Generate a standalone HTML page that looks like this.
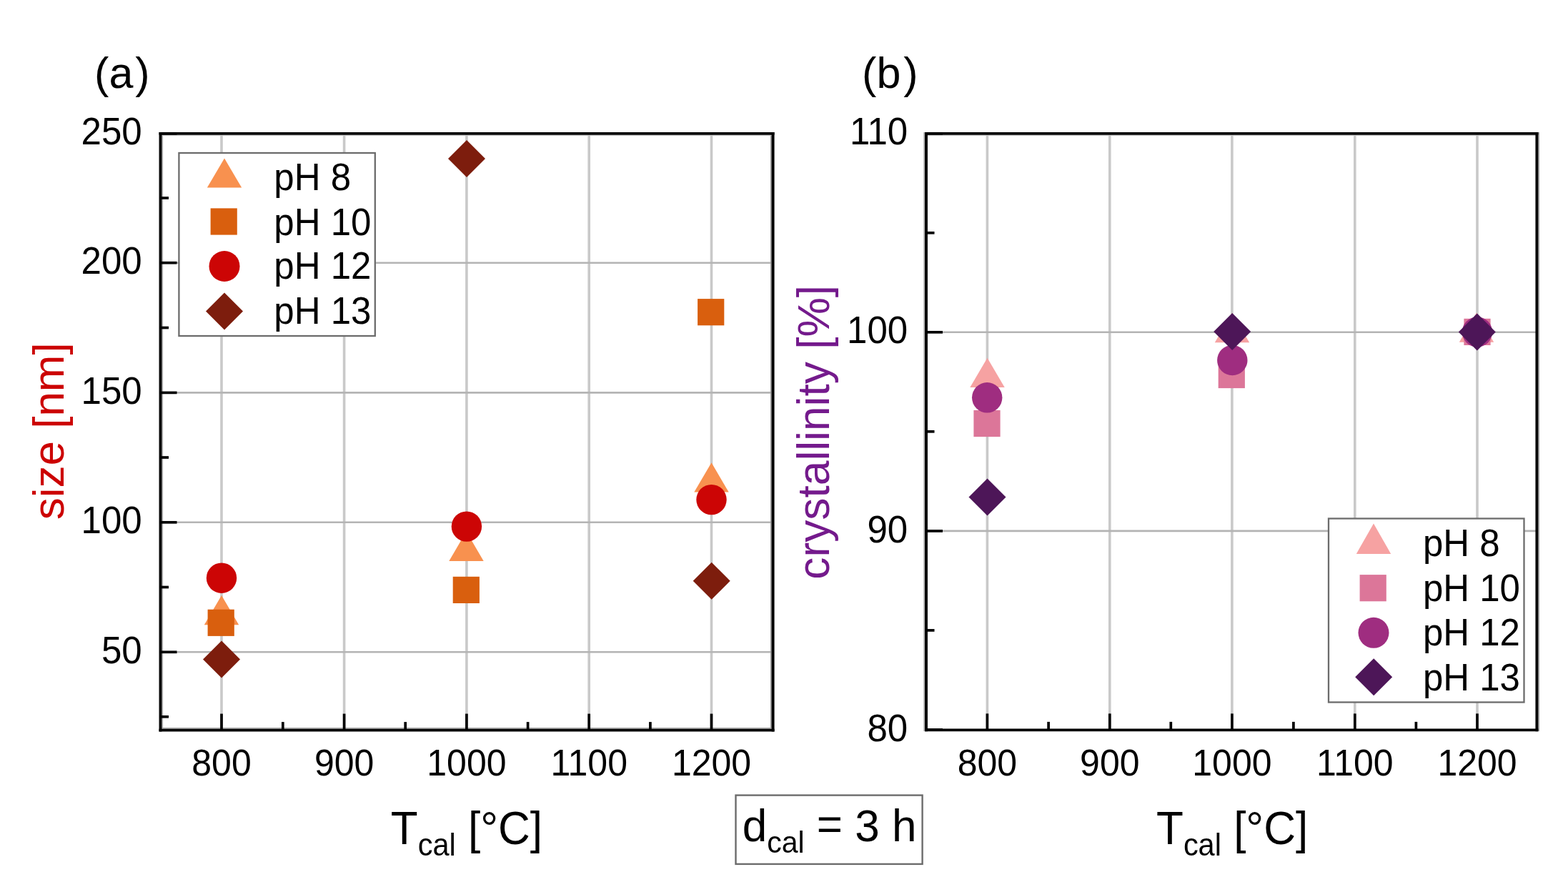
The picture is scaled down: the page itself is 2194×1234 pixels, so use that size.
<!DOCTYPE html>
<html><head><meta charset="utf-8"><title>Figure</title>
<style>html,body{margin:0;padding:0;background:#fff;width:2194px;height:1234px;overflow:hidden} svg{display:block}</style>
</head><body>
<svg width="2194" height="1234" viewBox="0 0 2194 1234" font-family='"Liberation Sans", Arial, Helvetica, sans-serif'>
<rect x="0" y="0" width="2194" height="1234" fill="#fff"/>
<line x1="310.0" y1="186.8" x2="310.0" y2="1021.6" stroke="#c9c9c9" stroke-width="3.6"/>
<line x1="481.6" y1="186.8" x2="481.6" y2="1021.6" stroke="#c9c9c9" stroke-width="3.6"/>
<line x1="652.9" y1="186.8" x2="652.9" y2="1021.6" stroke="#c9c9c9" stroke-width="3.6"/>
<line x1="824.2" y1="186.8" x2="824.2" y2="1021.6" stroke="#c9c9c9" stroke-width="3.6"/>
<line x1="995.5" y1="186.8" x2="995.5" y2="1021.6" stroke="#c9c9c9" stroke-width="3.6"/>
<line x1="224.5" y1="367.7" x2="1081.6" y2="367.7" stroke="#b4b4b4" stroke-width="2.6"/>
<line x1="224.5" y1="549.4" x2="1081.6" y2="549.4" stroke="#b4b4b4" stroke-width="2.6"/>
<line x1="224.5" y1="730.8" x2="1081.6" y2="730.8" stroke="#b4b4b4" stroke-width="2.6"/>
<line x1="224.5" y1="912.3" x2="1081.6" y2="912.3" stroke="#b4b4b4" stroke-width="2.6"/>
<polygon points="310.00,833.00 334.20,874.30 285.80,874.30" fill="#F8914F"/>
<polygon points="652.50,743.60 676.70,785.00 628.30,785.00" fill="#F8914F"/>
<polygon points="995.50,647.20 1019.70,688.60 971.30,688.60" fill="#F8914F"/>
<rect x="290.60" y="852.70" width="37.2" height="37.2" fill="#D95F0E"/>
<rect x="633.70" y="806.80" width="37.2" height="37.2" fill="#D95F0E"/>
<rect x="976.10" y="418.10" width="37.2" height="37.2" fill="#D95F0E"/>
<circle cx="310.0" cy="808.7" r="21.2" fill="#CC0505"/>
<circle cx="652.9" cy="736.6" r="21.2" fill="#CC0505"/>
<circle cx="995.5" cy="699.1" r="21.2" fill="#CC0505"/>
<polygon points="310.00,896.60 336.00,922.60 310.00,948.60 284.00,922.60" fill="#7D1D0D"/>
<polygon points="653.00,196.10 679.00,222.10 653.00,248.10 627.00,222.10" fill="#7D1D0D"/>
<polygon points="995.70,786.80 1021.70,812.80 995.70,838.80 969.70,812.80" fill="#7D1D0D"/>
<line x1="227.2" y1="188" x2="227.2" y2="1019" stroke="#b4b4b4" stroke-width="1.8"/>
<line x1="1078.9" y1="188" x2="1078.9" y2="1019" stroke="#989898" stroke-width="1.8"/>
<line x1="226" y1="1018.9" x2="1080" y2="1018.9" stroke="#a4a4a4" stroke-width="1.8"/>
<line x1="226" y1="189.4" x2="1080" y2="189.4" stroke="#c8c8c8" stroke-width="1.2"/>
<path d="M224.5,184.9V1023.5M1081.6,184.9V1023.5" stroke="#000" stroke-width="3.9" fill="none"/>
<path d="M222.55,186.8H1083.55M222.55,1021.6H1083.55" stroke="#000" stroke-width="3.7" fill="none"/>
<line x1="310.0" y1="1021.6" x2="310.0" y2="998.60" stroke="#000" stroke-width="3.7"/>
<line x1="481.6" y1="1021.6" x2="481.6" y2="998.60" stroke="#000" stroke-width="3.7"/>
<line x1="652.9" y1="1021.6" x2="652.9" y2="998.60" stroke="#000" stroke-width="3.7"/>
<line x1="824.2" y1="1021.6" x2="824.2" y2="998.60" stroke="#000" stroke-width="3.7"/>
<line x1="995.5" y1="1021.6" x2="995.5" y2="998.60" stroke="#000" stroke-width="3.7"/>
<line x1="395.8" y1="1021.6" x2="395.8" y2="1010.10" stroke="#000" stroke-width="3.7"/>
<line x1="567.2" y1="1021.6" x2="567.2" y2="1010.10" stroke="#000" stroke-width="3.7"/>
<line x1="738.6" y1="1021.6" x2="738.6" y2="1010.10" stroke="#000" stroke-width="3.7"/>
<line x1="909.9" y1="1021.6" x2="909.9" y2="1010.10" stroke="#000" stroke-width="3.7"/>
<line x1="224.5" y1="186.8" x2="247.50" y2="186.8" stroke="#000" stroke-width="3.7"/>
<line x1="224.5" y1="367.7" x2="247.50" y2="367.7" stroke="#000" stroke-width="3.7"/>
<line x1="224.5" y1="549.4" x2="247.50" y2="549.4" stroke="#000" stroke-width="3.7"/>
<line x1="224.5" y1="730.8" x2="247.50" y2="730.8" stroke="#000" stroke-width="3.7"/>
<line x1="224.5" y1="912.3" x2="247.50" y2="912.3" stroke="#000" stroke-width="3.7"/>
<line x1="224.5" y1="1002.8" x2="236.00" y2="1002.8" stroke="#000" stroke-width="3.7"/>
<line x1="224.5" y1="821.5" x2="236.00" y2="821.5" stroke="#000" stroke-width="3.7"/>
<line x1="224.5" y1="640.0" x2="236.00" y2="640.0" stroke="#000" stroke-width="3.7"/>
<line x1="224.5" y1="458.5" x2="236.00" y2="458.5" stroke="#000" stroke-width="3.7"/>
<line x1="224.5" y1="277.0" x2="236.00" y2="277.0" stroke="#000" stroke-width="3.7"/>
<text transform="translate(310.0,1084.8) scale(1,1.025)" font-size="50" text-anchor="middle">800</text>
<text transform="translate(481.6,1084.8) scale(1,1.025)" font-size="50" text-anchor="middle">900</text>
<text transform="translate(652.9,1084.8) scale(1,1.025)" font-size="50" text-anchor="middle">1000</text>
<text transform="translate(824.2,1084.8) scale(1,1.025)" font-size="50" text-anchor="middle">1100</text>
<text transform="translate(995.5,1084.8) scale(1,1.025)" font-size="50" text-anchor="middle">1200</text>
<text transform="translate(198.7,202.4) scale(1,1.06)" font-size="51" text-anchor="end">250</text>
<text transform="translate(198.7,383.3) scale(1,1.06)" font-size="51" text-anchor="end">200</text>
<text transform="translate(198.7,565.0) scale(1,1.06)" font-size="51" text-anchor="end">150</text>
<text transform="translate(198.7,746.4) scale(1,1.06)" font-size="51" text-anchor="end">100</text>
<text transform="translate(198.7,927.9) scale(1,1.06)" font-size="51" text-anchor="end">50</text>
<rect x="250.4" y="214" width="274.4" height="256" fill="#fff" stroke="#6c6c6c" stroke-width="2.3"/>
<polygon points="314.00,221.60 338.20,262.60 289.80,262.60" fill="#F8914F"/>
<rect x="294.60" y="291.40" width="37.2" height="37.2" fill="#D95F0E"/>
<circle cx="314.0" cy="372.5" r="21.5" fill="#CC0505"/>
<polygon points="314.00,409.50 340.00,435.50 314.00,461.50 288.00,435.50" fill="#7D1D0D"/>
<text transform="translate(383.3,266.2) scale(1,1.04)" font-size="51">pH 8</text>
<text transform="translate(383.3,328.6) scale(1,1.04)" font-size="51">pH 10</text>
<text transform="translate(383.3,389.9) scale(1,1.04)" font-size="51">pH 12</text>
<text transform="translate(383.3,453.4) scale(1,1.04)" font-size="51">pH 13</text>
<line x1="1381.4" y1="186.8" x2="1381.4" y2="1021.4" stroke="#c9c9c9" stroke-width="3.6"/>
<line x1="1552.8" y1="186.8" x2="1552.8" y2="1021.4" stroke="#c9c9c9" stroke-width="3.6"/>
<line x1="1723.9" y1="186.8" x2="1723.9" y2="1021.4" stroke="#c9c9c9" stroke-width="3.6"/>
<line x1="1895.8" y1="186.8" x2="1895.8" y2="1021.4" stroke="#c9c9c9" stroke-width="3.6"/>
<line x1="2067.0" y1="186.8" x2="2067.0" y2="1021.4" stroke="#c9c9c9" stroke-width="3.6"/>
<line x1="1296.0" y1="464.8" x2="2150.4" y2="464.8" stroke="#b4b4b4" stroke-width="2.6"/>
<line x1="1296.0" y1="742.9" x2="2150.4" y2="742.9" stroke="#b4b4b4" stroke-width="2.6"/>
<polygon points="1381.50,500.70 1405.70,542.10 1357.30,542.10" fill="#F6A2A2"/>
<polygon points="1724.00,437.80 1748.20,479.20 1699.80,479.20" fill="#F6A2A2"/>
<polygon points="2066.00,437.40 2090.20,478.80 2041.80,478.80" fill="#F6A2A2"/>
<rect x="1362.40" y="573.90" width="37.2" height="37.2" fill="#DC7699"/>
<rect x="1704.70" y="505.90" width="37.2" height="37.2" fill="#DC7699"/>
<rect x="2048.40" y="445.80" width="37.2" height="37.2" fill="#DC7699"/>
<circle cx="1381.2" cy="556.3" r="21.2" fill="#9F2D80"/>
<circle cx="1724.3" cy="504.0" r="21.2" fill="#9F2D80"/>
<circle cx="2067.0" cy="464.5" r="21.2" fill="#9F2D80"/>
<polygon points="1381.50,669.50 1407.50,695.50 1381.50,721.50 1355.50,695.50" fill="#4D1658"/>
<polygon points="1724.20,437.90 1750.20,463.90 1724.20,489.90 1698.20,463.90" fill="#4D1658"/>
<polygon points="2066.80,438.40 2092.80,464.40 2066.80,490.40 2040.80,464.40" fill="#4D1658"/>
<line x1="1293.1" y1="185" x2="1293.1" y2="1023" stroke="#b4b4b4" stroke-width="1.8"/>
<line x1="2153.2" y1="185" x2="2153.2" y2="1023" stroke="#a0a0a0" stroke-width="1.6"/>
<line x1="1297" y1="189.4" x2="2149" y2="189.4" stroke="#c8c8c8" stroke-width="1.2"/>
<path d="M1296.0,184.9V1023.3M2150.4,184.9V1023.3" stroke="#000" stroke-width="3.9" fill="none"/>
<path d="M1294.05,186.8H2152.35M1294.05,1021.4H2152.35" stroke="#000" stroke-width="3.7" fill="none"/>
<line x1="1381.4" y1="1021.4" x2="1381.4" y2="998.40" stroke="#000" stroke-width="3.7"/>
<line x1="1552.8" y1="1021.4" x2="1552.8" y2="998.40" stroke="#000" stroke-width="3.7"/>
<line x1="1723.9" y1="1021.4" x2="1723.9" y2="998.40" stroke="#000" stroke-width="3.7"/>
<line x1="1895.8" y1="1021.4" x2="1895.8" y2="998.40" stroke="#000" stroke-width="3.7"/>
<line x1="2067.0" y1="1021.4" x2="2067.0" y2="998.40" stroke="#000" stroke-width="3.7"/>
<line x1="1467.1" y1="1021.4" x2="1467.1" y2="1009.90" stroke="#000" stroke-width="3.7"/>
<line x1="1638.3" y1="1021.4" x2="1638.3" y2="1009.90" stroke="#000" stroke-width="3.7"/>
<line x1="1809.9" y1="1021.4" x2="1809.9" y2="1009.90" stroke="#000" stroke-width="3.7"/>
<line x1="1981.4" y1="1021.4" x2="1981.4" y2="1009.90" stroke="#000" stroke-width="3.7"/>
<line x1="1296.0" y1="186.8" x2="1319.00" y2="186.8" stroke="#000" stroke-width="3.7"/>
<line x1="1296.0" y1="464.8" x2="1319.00" y2="464.8" stroke="#000" stroke-width="3.7"/>
<line x1="1296.0" y1="742.9" x2="1319.00" y2="742.9" stroke="#000" stroke-width="3.7"/>
<line x1="1296.0" y1="1021.0" x2="1319.00" y2="1021.0" stroke="#000" stroke-width="3.7"/>
<line x1="1296.0" y1="881.9" x2="1307.50" y2="881.9" stroke="#000" stroke-width="3.7"/>
<line x1="1296.0" y1="603.8" x2="1307.50" y2="603.8" stroke="#000" stroke-width="3.7"/>
<line x1="1296.0" y1="325.8" x2="1307.50" y2="325.8" stroke="#000" stroke-width="3.7"/>
<text transform="translate(1381.4,1084.8) scale(1,1.025)" font-size="50" text-anchor="middle">800</text>
<text transform="translate(1552.8,1084.8) scale(1,1.025)" font-size="50" text-anchor="middle">900</text>
<text transform="translate(1723.9,1084.8) scale(1,1.025)" font-size="50" text-anchor="middle">1000</text>
<text transform="translate(1895.8,1084.8) scale(1,1.025)" font-size="50" text-anchor="middle">1100</text>
<text transform="translate(2067.0,1084.8) scale(1,1.025)" font-size="50" text-anchor="middle">1200</text>
<text transform="translate(1270.2,202.4) scale(1,1.06)" font-size="51" text-anchor="end">110</text>
<text transform="translate(1270.2,480.4) scale(1,1.06)" font-size="51" text-anchor="end">100</text>
<text transform="translate(1270.2,758.5) scale(1,1.06)" font-size="51" text-anchor="end">90</text>
<text transform="translate(1270.2,1036.6) scale(1,1.06)" font-size="51" text-anchor="end">80</text>
<rect x="1859" y="725.5" width="273.5" height="257" fill="#fff" stroke="#6c6c6c" stroke-width="2.3"/>
<polygon points="1922.00,732.50 1946.20,774.90 1897.80,774.90" fill="#F6A2A2"/>
<rect x="1902.60" y="804.10" width="37.2" height="37.2" fill="#DC7699"/>
<circle cx="1922.0" cy="885.3" r="21.5" fill="#9F2D80"/>
<polygon points="1922.20,921.20 1948.20,947.20 1922.20,973.20 1896.20,947.20" fill="#4D1658"/>
<text transform="translate(1990.9,778.3) scale(1,1.04)" font-size="51">pH 8</text>
<text transform="translate(1990.9,840.7) scale(1,1.04)" font-size="51">pH 10</text>
<text transform="translate(1990.9,903.1) scale(1,1.04)" font-size="51">pH 12</text>
<text transform="translate(1990.9,965.5) scale(1,1.04)" font-size="51">pH 13</text>
<text x="132.1" y="122.8" font-size="61">(a<tspan dx="3">)</tspan></text>
<text x="1206.1" y="122.8" font-size="61">(b<tspan dx="4">)</tspan></text>
<text transform="translate(88.7,603.3) rotate(-90)" font-size="62" fill="#CC0000" text-anchor="middle">size [nm]</text>
<text transform="translate(1160.4,604.8) rotate(-90)" font-size="62.3" fill="#741A8C" text-anchor="middle">crystallinity [%]</text>
<text transform="translate(546.8,1180.6) scale(1,1.06)" font-size="62">T<tspan font-size="41.5" dy="15.5">cal</tspan><tspan dy="-15.5"> [°C]</tspan></text>
<text transform="translate(1618.0,1180.6) scale(1,1.06)" font-size="62">T<tspan font-size="41.5" dy="15.5">cal</tspan><tspan dy="-15.5"> [°C]</tspan></text>
<rect x="1029.5" y="1112.6" width="261.1" height="96.3" fill="#fff" stroke="#6c6c6c" stroke-width="2.4"/>
<text transform="translate(1038.7,1177.2) scale(1,1.02)" font-size="62">d<tspan font-size="41" dy="15.6">cal</tspan><tspan dy="-17.6"> =</tspan><tspan dy="2"> 3 h</tspan></text>
</svg>
</body></html>
